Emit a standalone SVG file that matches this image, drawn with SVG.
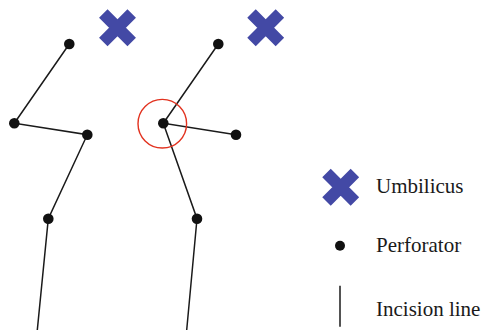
<svg xmlns="http://www.w3.org/2000/svg" width="482" height="334" viewBox="0 0 482 334">
<defs>
<style>
.ln{stroke:#1a1a1a;stroke-width:1.5;fill:none}
.dot{fill:#111}
.x{stroke:#4349a5;stroke-width:12;stroke-linecap:butt;fill:none}
.lbl{font-family:"Liberation Serif",serif;font-size:21px;fill:#1a1a1a}
</style>
<g id="xmark"><path class="x" d="M-14.2,-14.2L14.2,14.2M14.2,-14.2L-14.2,14.2"/></g>
</defs>
<rect width="482" height="334" fill="#fff"/>
<g id="connectors">
<polyline class="ln" points="69.3,44 14.3,123.3 87.3,134.7 48.3,218.7 37.3,330"/>
<polyline class="ln" points="218.3,44 163.3,123.3 236,134.7"/>
<polyline class="ln" points="163.3,123.3 197,218.7 186.7,330"/>
</g>
<g id="left-incision">
<circle class="dot" cx="69.3" cy="44" r="5.3"/>
<circle class="dot" cx="14.3" cy="123.3" r="5.3"/>
<circle class="dot" cx="87.3" cy="134.7" r="5.3"/>
<circle class="dot" cx="48.3" cy="218.7" r="5.3"/>
</g>
<g id="right-incision">
<circle class="dot" cx="218.3" cy="44" r="5.3"/>
<circle class="dot" cx="163.3" cy="123.3" r="5.3"/>
<circle class="dot" cx="236" cy="134.7" r="5.3"/>
<circle class="dot" cx="197" cy="218.7" r="5.3"/>
<circle cx="162.3" cy="123.7" r="24.3" fill="none" stroke="#e2321f" stroke-width="1.4"/>
</g>
<g id="umbilicus-left"><use href="#xmark" x="117.5" y="27.8"/></g>
<g id="umbilicus-right"><use href="#xmark" x="265.7" y="27.8"/></g>
<g id="legend">
<use href="#xmark" x="340.7" y="187.3"/>
<circle class="dot" cx="340" cy="245.7" r="5"/>
<line class="ln" x1="340" y1="285.7" x2="340" y2="326.7"/>
<text class="lbl" x="376" y="192.5">Umbilicus</text>
<text class="lbl" x="376" y="252.3">Perforator</text>
<text class="lbl" x="376" y="315.7">Incision line</text>
</g>
</svg>
